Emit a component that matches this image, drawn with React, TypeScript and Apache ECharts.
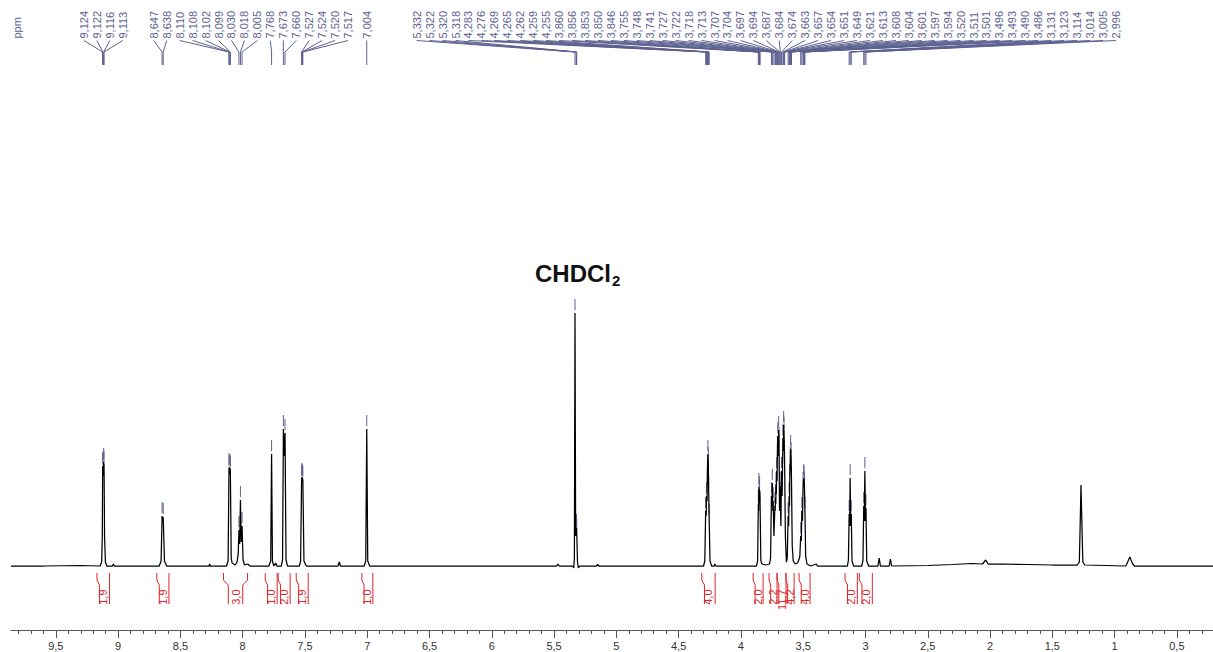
import React, { useEffect, useRef } from "react";
import * as echarts from "echarts";

// ---------- data ----------
// spectrum trace: [ppm, intensity] (intensity in arbitrary units above baseline)
const spectrum: [number, number][] = [
  [9.86, 0], [9.6, 0], [9.3, 0.5], [9.145, 0], [9.132, 4], [9.127, 30], [9.124, 100], [9.122, 98], [9.119, 90],
  [9.116, 104], [9.113, 101], [9.109, 30], [9.102, 4], [9.09, 0], [9.045, 0], [9.038, 2], [9.03, 0],
  [8.67, 0], [8.655, 5], [8.647, 50], [8.642, 46], [8.638, 49], [8.628, 5], [8.61, 0],
  [8.27, 0], [8.265, 2], [8.26, 0],
  [8.13, 0], [8.117, 5], [8.11, 97], [8.108, 99], [8.105, 92], [8.102, 98], [8.099, 96], [8.092, 8], [8.085, 3],
  [8.06, 1], [8.045, 4], [8.036, 12], [8.03, 36], [8.024, 22], [8.018, 66], [8.012, 24], [8.005, 40], [7.997, 6],
  [7.985, 1], [7.96, 2], [7.94, 0],
  [7.79, 0], [7.775, 5], [7.768, 112], [7.761, 5], [7.75, 0], [7.735, 3], [7.725, 0],
  [7.69, 0], [7.68, 6], [7.673, 137], [7.667, 110], [7.66, 133], [7.652, 6], [7.64, 0],
  [7.545, 0], [7.535, 5], [7.527, 87], [7.524, 89], [7.522, 85], [7.52, 88], [7.517, 86], [7.508, 5], [7.49, 0],
  [7.235, 0], [7.225, 4], [7.215, 0],
  [7.025, 0], [7.012, 5], [7.004, 137], [6.996, 5], [6.98, 0],
  [5.48, 0], [5.47, 2], [5.46, 0],
  [5.35, 0], [5.342, -2], [5.337, 8], [5.332, 253], [5.327, 30], [5.322, 35], [5.32, 38], [5.318, 33], [5.312, 4],
  [5.305, -2], [5.295, 0],
  [5.16, 0], [5.15, 1.5], [5.14, 0],
  [4.3, 0], [4.29, 5], [4.283, 55], [4.279, 50], [4.276, 70], [4.272, 65], [4.269, 95], [4.265, 112], [4.262, 105],
  [4.259, 75], [4.255, 48], [4.248, 5], [4.235, 0], [4.215, 0], [4.21, 2], [4.2, 0],
  [3.875, 0], [3.866, 5], [3.86, 62], [3.858, 55], [3.856, 79], [3.853, 72], [3.85, 76], [3.846, 60], [3.84, 5],
  [3.83, 2], [3.8, 1], [3.77, 2], [3.762, 8], [3.755, 70], [3.751, 60], [3.748, 83], [3.744, 55], [3.741, 65],
  [3.735, 30], [3.731, 45], [3.727, 60], [3.725, 55], [3.722, 68], [3.72, 62], [3.718, 80], [3.716, 72],
  [3.713, 95], [3.71, 85], [3.707, 115], [3.704, 130], [3.7, 110], [3.697, 136], [3.694, 125], [3.69, 55],
  [3.687, 80], [3.684, 70], [3.679, 40], [3.674, 95], [3.669, 70], [3.663, 128], [3.66, 115], [3.657, 141],
  [3.654, 135], [3.651, 112], [3.649, 100], [3.643, 30], [3.635, 4], [3.628, 8], [3.621, 50], [3.617, 40],
  [3.613, 70], [3.61, 60], [3.608, 88], [3.604, 105], [3.601, 117], [3.597, 110], [3.594, 85], [3.588, 20],
  [3.58, 5], [3.565, 2], [3.545, 3], [3.53, 8], [3.527, 10], [3.52, 30], [3.515, 25], [3.511, 55], [3.506, 45],
  [3.501, 80], [3.496, 88], [3.493, 86], [3.49, 80], [3.486, 55], [3.48, 10], [3.47, 2], [3.44, 0],
  [3.395, 2], [3.385, 0],
  [3.145, 0], [3.137, 6], [3.131, 52], [3.127, 40], [3.123, 88], [3.119, 40], [3.114, 52], [3.108, 5], [3.095, 0],
  [3.03, 0], [3.02, 6], [3.014, 60], [3.01, 45], [3.005, 95], [3.0, 45], [2.996, 58], [2.99, 5], [2.975, 0],
  [2.9, 0], [2.89, 8], [2.88, 0], [2.81, 0], [2.8, 7], [2.79, 0],
  [2.5, 0.5], [2.3, 1.5], [2.15, 2.5], [2.06, 2], [2.035, 6], [2.015, 2], [1.9, 2], [1.7, 1.5], [1.5, 1], [1.35, 1],
  [1.3, 1], [1.283, 4], [1.274, 55], [1.27, 81], [1.265, 55], [1.255, 4], [1.24, 1],
  [0.91, 0], [0.895, 4], [0.885, 7], [0.877, 9], [0.868, 6], [0.855, 2], [0.84, 0], [0.21, 0],
];

// picked peaks (ppm) and their heights
const peakPpm = [
  9.124, 9.122, 9.116, 9.113, 8.647, 8.638, 8.11, 8.108, 8.102, 8.099, 8.03, 8.018, 8.005, 7.768, 7.673, 7.66,
  7.527, 7.524, 7.52, 7.517, 7.004,
  5.332, 5.322, 5.32, 5.318, 4.283, 4.276, 4.269, 4.265, 4.262, 4.259, 4.255, 3.86, 3.856, 3.853, 3.85, 3.846,
  3.755, 3.748, 3.741, 3.727, 3.722, 3.718, 3.713, 3.707, 3.704, 3.697, 3.694, 3.687, 3.684, 3.674, 3.663,
  3.657, 3.654, 3.651, 3.649, 3.621, 3.613, 3.608, 3.604, 3.601, 3.597, 3.594, 3.52, 3.511, 3.501, 3.496,
  3.493, 3.49, 3.486, 3.131, 3.123, 3.114, 3.014, 3.005, 2.996,
];
const peakHeight = [
  100, 98, 104, 101, 50, 49, 97, 99, 98, 96, 36, 66, 40, 112, 137, 133,
  87, 89, 88, 86, 137,
  253, 35, 38, 33, 55, 70, 95, 112, 105, 75, 48, 62, 79, 72, 76, 60,
  70, 83, 65, 60, 68, 80, 95, 115, 130, 136, 125, 80, 70, 95, 128,
  141, 135, 112, 100, 50, 70, 88, 105, 117, 110, 85, 30, 55, 80, 88,
  86, 80, 55, 52, 88, 52, 60, 95, 58,
];

// integrals: region start / end (ppm) and value
const integralFrom = [9.17, 8.689, 8.154, 7.819, 7.715, 7.57, 7.043, 4.314, 3.902, 3.774, 3.71, 3.638, 3.533, 3.164, 3.049];
const integralTo = [9.069, 8.592, 7.961, 7.723, 7.619, 7.474, 6.955, 4.207, 3.822, 3.71, 3.638, 3.573, 3.445, 3.065, 2.945];
const integralValue = [1.9, 1.9, 3.0, 1.0, 2.0, 1.9, 1.0, 4.0, 2.0, 2.2, 11.7, 4.2, 4.0, 2.0, 2.0];

// x axis tick labels
const axisTicks = [9.5, 9, 8.5, 8, 7.5, 7, 6.5, 6, 5.5, 5, 4.5, 4, 3.5, 3, 2.5, 2, 1.5, 1, 0.5];

// ---------- layout / style ----------
const X_MIN = 0.21;
const X_MAX = 9.86;
const GRID_LEFT = 11;
const WIDTH = 1213;
const HEIGHT = 652;
const PX_PER_PPM = (WIDTH - GRID_LEFT) / (X_MAX - X_MIN);
const LABEL_GAP = 12.95 / PX_PER_PPM;
const FONT = "'Liberation Sans', Arial, Helvetica, sans-serif";
const PEAK_COLOR = "#5d6190";
const INT_COLOR = "#e0262c";

const minorTicks: number[] = [];
for (let i = 3; i <= 98; i++) if (i % 5 !== 0) minorTicks.push(i / 10);

const comma = (s: string) => s.replace(".", ",");

function layoutLabels(ppms: number[], gap: number): number[] {
  const cl = ppms.map((p, i) => ({ members: [i], sum: p }));
  let merged = true;
  while (merged) {
    merged = false;
    for (let i = 0; i < cl.length - 1; i++) {
      const a = cl[i];
      const b = cl[i + 1];
      const aEnd = a.sum / a.members.length - ((a.members.length - 1) * gap) / 2;
      const bStart = b.sum / b.members.length + ((b.members.length - 1) * gap) / 2;
      if (aEnd - bStart < gap - 1e-9) {
        cl.splice(i, 2, { members: a.members.concat(b.members), sum: a.sum + b.sum });
        merged = true;
        break;
      }
    }
  }
  const out: number[] = new Array(ppms.length);
  for (const c of cl) {
    const n = c.members.length;
    const center = c.sum / n;
    c.members.forEach((m, k) => {
      out[m] = center + ((n - 1) / 2 - k) * gap;
    });
  }
  return out;
}

export default function App() {
  const ref = useRef<HTMLDivElement>(null);

  useEffect(() => {
    if (!ref.current) return;
    const chart = echarts.init(ref.current, undefined, { renderer: "svg" });
    const labelPos = layoutLabels(peakPpm, LABEL_GAP);

    const option: any = {
      animation: false,
      grid: [
        { left: GRID_LEFT, right: 0, top: 0, bottom: 22 },
        { left: GRID_LEFT, right: 0, top: 0, bottom: 22 },
      ],
      xAxis: [
        {
          type: "value",
          gridIndex: 0,
          min: X_MIN,
          max: X_MAX,
          inverse: true,
          axisLine: { show: true, onZero: false, lineStyle: { color: "#555", width: 1 } },
          axisTick: { show: true, length: 8, customValues: axisTicks, lineStyle: { color: "#555", width: 1 } },
          axisLabel: {
            show: true,
            customValues: axisTicks,
            margin: 10,
            color: "#333",
            fontSize: 11,
            fontFamily: FONT,
            formatter: (v: number) => comma(String(v)),
          },
          splitLine: { show: false },
        },
        {
          type: "value",
          gridIndex: 1,
          min: X_MIN,
          max: X_MAX,
          inverse: true,
          axisLine: { show: false, onZero: false },
          axisTick: { show: true, length: 4, customValues: minorTicks, lineStyle: { color: "#555", width: 1 } },
          axisLabel: { show: false },
          splitLine: { show: false },
        },
      ],
      yAxis: [
        { type: "value", gridIndex: 0, min: -64, max: 566, show: false },
        { type: "value", gridIndex: 1, min: 0, max: 1, show: false },
      ],
      series: [
        {
          type: "custom",
          name: "peaks",
          xAxisIndex: 0,
          yAxisIndex: 0,
          z: 2,
          silent: true,
          data: peakPpm.map((p, i) => [p, peakHeight[i], labelPos[i]]),
          renderItem: (params: any, api: any) => {
            const i = params.dataIndex;
            const pt = api.coord([api.value(0), api.value(1)]);
            const lx = api.coord([api.value(2), 0])[0];
            const px = pt[0];
            const py = pt[1];
            return {
              type: "group",
              children: [
                {
                  type: "text",
                  x: lx,
                  y: 38.5,
                  rotation: Math.PI / 2,
                  style: {
                    text: comma(peakPpm[i].toFixed(3)),
                    fill: PEAK_COLOR,
                    fontSize: 11,
                    fontFamily: FONT,
                    align: "left",
                    verticalAlign: "middle",
                  },
                },
                {
                  type: "polyline",
                  shape: { points: [[lx, 40.5], [px, 52], [px, 65]] },
                  style: { stroke: PEAK_COLOR, lineWidth: 1, fill: null },
                },
                {
                  type: "line",
                  shape: { x1: px, y1: py - 3, x2: px, y2: py - 14 },
                  style: { stroke: PEAK_COLOR, lineWidth: 1 },
                },
              ],
            };
          },
        },
        {
          type: "line",
          name: "spectrum",
          xAxisIndex: 0,
          yAxisIndex: 0,
          data: spectrum,
          showSymbol: false,
          symbol: "none",
          silent: true,
          z: 3,
          lineStyle: { color: "#000", width: 1.25 },
        },
        {
          type: "custom",
          name: "integrals",
          xAxisIndex: 0,
          yAxisIndex: 0,
          z: 4,
          silent: true,
          encode: { x: [0, 1] },
          data: integralFrom.map((f, i) => [f, integralTo[i], integralValue[i]]),
          renderItem: (params: any, api: any) => {
            const i = params.dataIndex;
            const xL = api.coord([api.value(0), 0])[0];
            const xR = api.coord([api.value(1), 0])[0];
            const w = xR - xL;
            const k = Math.min(5, w * 0.2);
            const kR = w > 18 ? k : 0;
            const st = { stroke: INT_COLOR, lineWidth: 1, fill: null };
            return {
              type: "group",
              children: [
                {
                  type: "polyline",
                  shape: { points: [[xL, 573], [xL, 580], [xL + k, 585], [xL + k, 604]] },
                  style: st,
                },
                {
                  type: "polyline",
                  shape: { points: [[xR, 573], [xR, 580], [xR - kR, 585], [xR - kR, 604]] },
                  style: st,
                },
                {
                  type: "text",
                  x: (xL + xR) / 2,
                  y: 589.5,
                  rotation: Math.PI / 2,
                  style: {
                    text: comma(integralValue[i].toFixed(1)),
                    fill: INT_COLOR,
                    fontSize: 11,
                    fontFamily: FONT,
                    align: "right",
                    verticalAlign: "middle",
                  },
                },
              ],
            };
          },
        },
      ],
      graphic: [
        {
          type: "text",
          x: 16.5,
          y: 38.5,
          rotation: Math.PI / 2,
          style: { text: "ppm", fill: PEAK_COLOR, fontSize: 11, fontFamily: FONT, align: "left", verticalAlign: "middle" },
        },
        {
          type: "text",
          x: 535,
          y: 273,
          style: {
            text: "CHDCl",
            fill: "#111",
            fontSize: 24,
            fontWeight: "bold",
            fontFamily: FONT,
            align: "left",
            verticalAlign: "middle",
          },
        },
        {
          type: "text",
          x: 612,
          y: 280,
          style: {
            text: "2",
            fill: "#111",
            fontSize: 15,
            fontWeight: "bold",
            fontFamily: FONT,
            align: "left",
            verticalAlign: "middle",
          },
        },
      ],
    };

    chart.setOption(option);
    return () => {
      chart.dispose();
    };
  }, []);

  return (
    <div
      ref={ref}
      style={{ position: "absolute", left: 0, top: 0, width: WIDTH, height: HEIGHT, background: "#fff" }}
    />
  );
}
